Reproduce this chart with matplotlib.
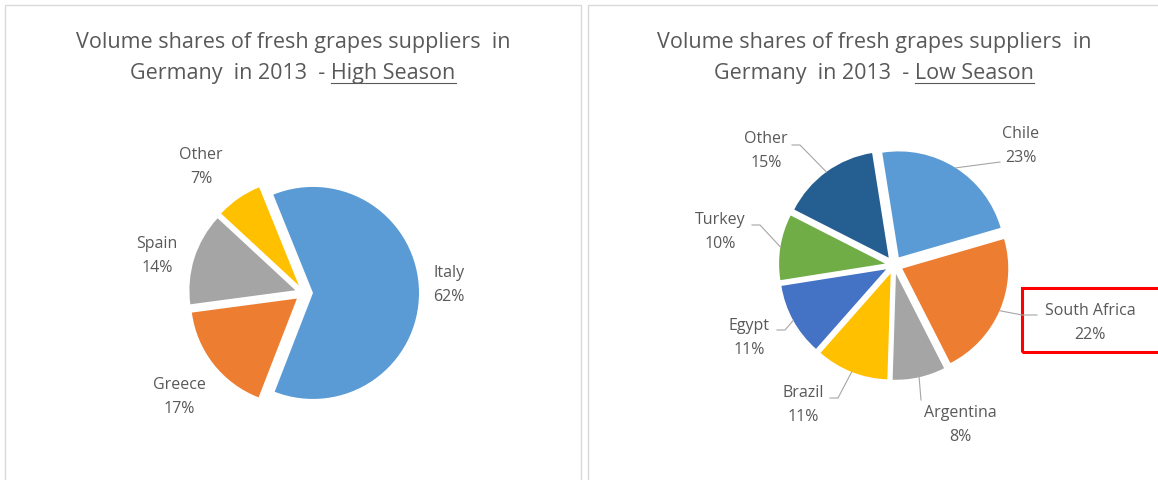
import matplotlib
matplotlib.use("Agg")
import matplotlib.pyplot as plt
import numpy as np
from matplotlib.patches import Rectangle

W, H = 1158, 480

high_labels = ["Italy", "Greece", "Spain", "Other"]
high_values = [62, 17, 14, 7]
high_colors = ["#5B9BD5", "#ED7D31", "#A5A5A5", "#FFC000"]

low_labels = ["Chile", "South Africa", "Argentina", "Brazil", "Egypt", "Turkey", "Other"]
low_values = [23, 22, 8, 11, 11, 10, 15]
low_colors = ["#5B9BD5", "#ED7D31", "#A5A5A5", "#FFC000", "#4472C4", "#70AD47", "#255E91"]

TEXT = "#595959"
LINE = "#A6A6A6"
R = 106
EXPLODE = 9  # pixels, pie() adds it as is
TITLE_SIZE = 15.5
LABEL_SIZE = 11.5

plt.rcParams["font.family"] = ["Open Sans", "DejaVu Sans"]

# label centres, in pixels from the top left corner
high_label_pos = [(449, 285), (179, 397), (157, 256), (201, 167)]
low_label_pos = [(1021, 146), (1090, 323), (960, 425), (803, 405), (749, 338), (720, 232), (766, 151)]
# leader lines: (elbow, end) near the label
low_leaders = [
    ((1000, 162), (1000, 162)),
    ((1022, 315), (1037, 315)),
    ((921, 400), (921, 400)),
    ((838, 398), (830, 398)),
    ((785, 330), (777, 330)),
    ((760, 225), (752, 225)),
    ((800, 145), (792, 145)),
]


def draw_pie(ax, values, labels, colors, center, start, label_pos, leaders=None):
    wedges, _ = ax.pie(values, colors=colors, startangle=start, counterclock=False,
                       radius=R, center=(center[0], H - center[1]),
                       explode=[EXPLODE] * len(values),
                       wedgeprops=dict(linewidth=0))
    for i, w in enumerate(wedges):
        x, y = label_pos[i]
        ax.text(x, H - y, f"{labels[i]}\n{values[i]}%", ha="center", va="center",
                fontsize=LABEL_SIZE, color=TEXT, linespacing=1.7)
        if leaders:
            theta = np.radians((w.theta1 + w.theta2) / 2)
            px = w.center[0] + w.r * np.cos(theta)
            py = w.center[1] + w.r * np.sin(theta)
            (ex, ey), (lx, ly) = leaders[i]
            ax.plot([px, ex, lx], [py, H - ey, H - ly], color=LINE, lw=0.8)


def draw_title(ax, renderer, xc, season):
    ax.text(xc, H - 48, "Volume shares of fresh grapes suppliers  in", ha="center",
            va="baseline", fontsize=TITLE_SIZE, color=TEXT)
    t = ax.text(xc, H - 79, "Germany  in 2013  - " + season, ha="center",
                va="baseline", fontsize=TITLE_SIZE, color=TEXT)
    bb = t.get_window_extent(renderer)
    tmp = ax.text(0, 0, season, fontsize=TITLE_SIZE)
    sw = tmp.get_window_extent(renderer).width
    tmp.remove()
    ax.plot([bb.x1 - sw, bb.x1], [H - 83, H - 83], color=TEXT, lw=0.8)


fig = plt.figure(figsize=(W / 100, H / 100), dpi=100)
ax = fig.add_axes([0, 0, 1, 1])

draw_pie(ax, high_values, high_labels, high_colors, (304, 293), 112, high_label_pos)
draw_pie(ax, low_values, low_labels, low_colors, (894, 265), 99, low_label_pos, low_leaders)

ax.set_xlim(0, W)
ax.set_ylim(0, H)
ax.axis("off")

# panel frames
ax.add_patch(Rectangle((5, -10), 576, H - 5 + 10, fill=False, edgecolor="#D9D9D9", lw=1))
ax.add_patch(Rectangle((588, -10), 600, H - 5 + 10, fill=False, edgecolor="#D9D9D9", lw=1))
# highlight box
ax.add_patch(Rectangle((1022, H - 352), 160, 64, fill=False, edgecolor="#FF0000", lw=2.2))

fig.canvas.draw()
renderer = fig.canvas.get_renderer()
draw_title(ax, renderer, 293, "High Season")
draw_title(ax, renderer, 874, "Low Season")

fig.savefig("out.png", dpi=100)
